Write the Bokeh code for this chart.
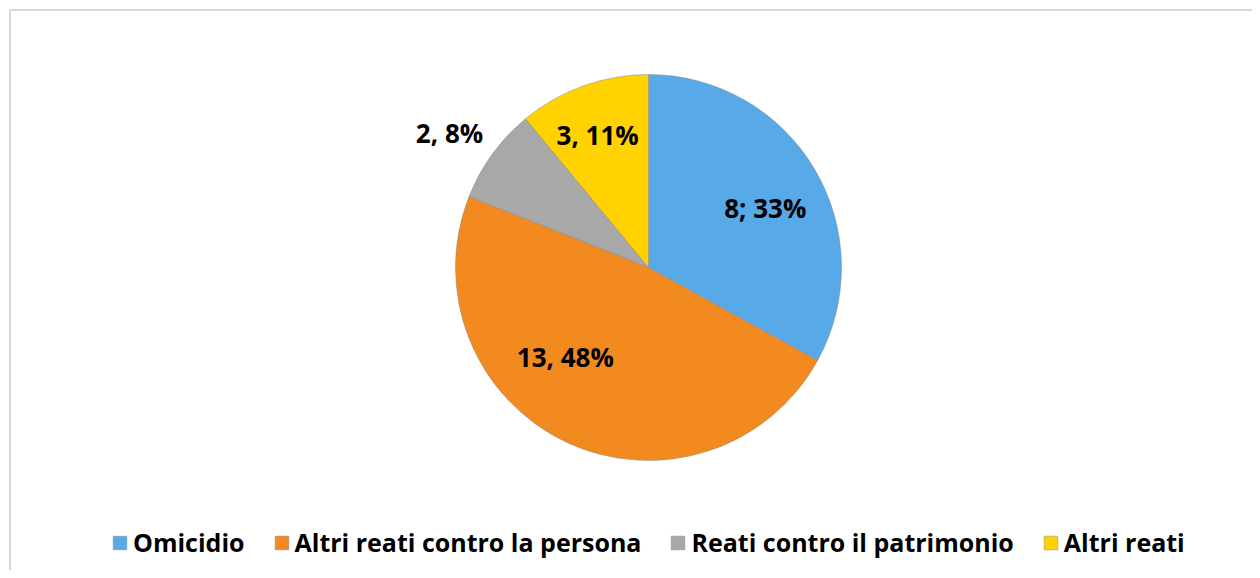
import math
from bokeh.plotting import figure
from bokeh.models import ColumnDataSource, Range1d, Legend, LegendItem
from bokeh.core.properties import value
from bokeh.embed import file_html
from bokeh.resources import INLINE

# ---- data ----
categories = ["Omicidio", "Altri reati contro la persona", "Reati contro il patrimonio", "Altri reati"]
counts = [8, 13, 2, 3]
percents = [33, 48, 8, 11]
labels = ["8; 33%", "13, 48%", "2, 8%", "3, 11%"]
colors = ["#58A9E8", "#F38A1F", "#A8A8A8", "#FFD200"]

# ---- layout constants ----
W, H = 1252, 570
CX, CY, R = 648, 303, 193          # pie centre / radius (px-like data units)
label_angle_deg = [27, -133, 146, 111]
label_radius = [131, 122, 240, 142]
FONT = "Open Sans"

total = sum(percents)
starts, ends = [], []
a = math.pi / 2
for pc in percents:
    starts.append(a)
    a -= 2 * math.pi * pc / total
    ends.append(a)

src = ColumnDataSource(dict(
    name=categories, start=starts, end=ends, color=colors,
    x=[CX] * 4, y=[CY] * 4,
))

p = figure(width=W, height=H, output_backend="svg", toolbar_location=None,
           x_range=Range1d(0, W), y_range=Range1d(0, H),
           min_border=0, min_border_left=0, min_border_right=0,
           min_border_top=0, min_border_bottom=0)
p.axis.visible = False
p.grid.visible = False
p.outline_line_color = None
p.background_fill_color = "white"
p.border_fill_color = "white"

# chart border (top and left visible in the crop)
p.line([9.5, W], [H - 9.5, H - 9.5], line_color="#D9D9D9", line_width=2)
p.line([9.5, 9.5], [H - 9.5, 0], line_color="#D9D9D9", line_width=2)

w = p.wedge(x="x", y="y", radius=R, start_angle="end", end_angle="start",
            fill_color="color", line_color="#8a8a8a", line_alpha=0.5, line_width=1,
            source=src)

lx = [CX + r * math.cos(math.radians(d)) for r, d in zip(label_radius, label_angle_deg)]
ly = [CY + r * math.sin(math.radians(d)) for r, d in zip(label_radius, label_angle_deg)]
p.text(x=lx, y=ly, text=labels, text_font=value(FONT), text_font_style="bold",
       text_font_size="26px", text_color="black", text_align="center",
       text_baseline="middle")

items = [LegendItem(label=categories[i], renderers=[w], index=i) for i in range(4)]
legend = Legend(items=items, orientation="horizontal", location=(111, 11),
                label_text_font=FONT, label_text_font_style="bold",
                label_text_font_size="25px", label_text_color="black",
                glyph_width=17, glyph_height=17, label_standoff=5, spacing=28,
                padding=0, margin=0, border_line_color=None,
                background_fill_alpha=0)
p.add_layout(legend)

open("out.html", "w").write(file_html(p, INLINE))
